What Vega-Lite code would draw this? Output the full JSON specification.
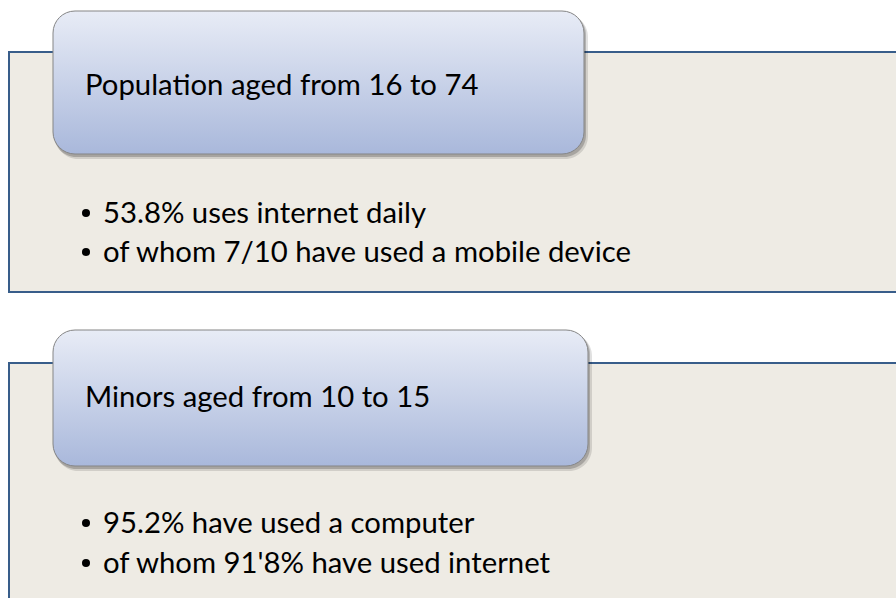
{
  "$schema": "https://vega.github.io/schema/vega-lite/v6.json",
  "width": 896,
  "height": 598,
  "autosize": {"type": "fit", "contains": "padding"},
  "padding": 0,
  "background": "#ffffff",
  "config": {"view": {"stroke": null}, "axis": {"disable": true}, "legend": {"disable": true}},
  "datasets": {
    "lines": [
      {"group": "Population aged from 16 to 74", "kind": "title", "slot": 1, "text": "Population aged from 16 to 74"},
      {"group": "Population aged from 16 to 74", "kind": "bullet", "slot": 2, "text": "53.8% uses internet daily"},
      {"group": "Population aged from 16 to 74", "kind": "bullet", "slot": 3, "text": "of whom 7/10 have used a mobile device"},
      {"group": "Minors aged from 10 to 15", "kind": "title", "slot": 4, "text": "Minors aged from 10 to 15"},
      {"group": "Minors aged from 10 to 15", "kind": "bullet", "slot": 5, "text": "95.2% have used a computer"},
      {"group": "Minors aged from 10 to 15", "kind": "bullet", "slot": 6, "text": "of whom 91'8% have used internet"}
    ]
  },
  "layer": [
    {
      "data": {"values": [{}]},
      "mark": {"type": "rect", "fill": "#EEEBE4", "stroke": "#385D8A", "strokeWidth": 2, "clip": true},
      "encoding": {
        "x": {"datum": 9, "type": "quantitative", "scale": {"domain": [0, 896], "nice": false, "zero": false}},
        "x2": {"datum": 910},
        "y": {"datum": 52, "type": "quantitative", "scale": {"domain": [0, 598], "reverse": true, "nice": false, "zero": false}},
        "y2": {"datum": 292}
      }
    },
    {
      "data": {"values": [{}]},
      "mark": {"type": "rect", "fill": "#EEEBE4", "stroke": "#385D8A", "strokeWidth": 2, "clip": true},
      "encoding": {
        "x": {"datum": 9, "type": "quantitative", "scale": {"domain": [0, 896], "nice": false, "zero": false}},
        "x2": {"datum": 910},
        "y": {"datum": 363, "type": "quantitative", "scale": {"domain": [0, 598], "reverse": true, "nice": false, "zero": false}},
        "y2": {"datum": 615}
      }
    },
    {
      "data": {"values": [{}]},
      "mark": {"type": "rect", "fill": "#000000", "opacity": 0.12, "cornerRadius": 23},
      "encoding": {
        "x": {"datum": 55, "type": "quantitative", "scale": {"domain": [0, 896], "nice": false, "zero": false}},
        "x2": {"datum": 588},
        "y": {"datum": 14, "type": "quantitative", "scale": {"domain": [0, 598], "reverse": true, "nice": false, "zero": false}},
        "y2": {"datum": 159}
      }
    },
    {
      "data": {"values": [{}]},
      "mark": {"type": "rect", "fill": "#000000", "opacity": 0.2, "cornerRadius": 22},
      "encoding": {
        "x": {"datum": 54, "type": "quantitative", "scale": {"domain": [0, 896], "nice": false, "zero": false}},
        "x2": {"datum": 586},
        "y": {"datum": 13, "type": "quantitative", "scale": {"domain": [0, 598], "reverse": true, "nice": false, "zero": false}},
        "y2": {"datum": 157}
      }
    },
    {
      "data": {"values": [{}]},
      "mark": {"type": "rect", "fill": "#000000", "opacity": 0.12, "cornerRadius": 23},
      "encoding": {
        "x": {"datum": 55, "type": "quantitative", "scale": {"domain": [0, 896], "nice": false, "zero": false}},
        "x2": {"datum": 592},
        "y": {"datum": 333, "type": "quantitative", "scale": {"domain": [0, 598], "reverse": true, "nice": false, "zero": false}},
        "y2": {"datum": 471}
      }
    },
    {
      "data": {"values": [{}]},
      "mark": {"type": "rect", "fill": "#000000", "opacity": 0.2, "cornerRadius": 22},
      "encoding": {
        "x": {"datum": 54, "type": "quantitative", "scale": {"domain": [0, 896], "nice": false, "zero": false}},
        "x2": {"datum": 590},
        "y": {"datum": 332, "type": "quantitative", "scale": {"domain": [0, 598], "reverse": true, "nice": false, "zero": false}},
        "y2": {"datum": 469}
      }
    },
    {
      "data": {"values": [{}]},
      "mark": {
        "type": "rect", "cornerRadius": 22, "stroke": "#858585", "strokeWidth": 1,
        "fill": {"gradient": "linear", "x1": 0, "y1": 0, "x2": 0, "y2": 1,
          "stops": [{"offset": 0, "color": "#E8ECF6"}, {"offset": 1, "color": "#A9B8DB"}]}
      },
      "encoding": {
        "x": {"datum": 53, "type": "quantitative", "scale": {"domain": [0, 896], "nice": false, "zero": false}},
        "x2": {"datum": 584},
        "y": {"datum": 11, "type": "quantitative", "scale": {"domain": [0, 598], "reverse": true, "nice": false, "zero": false}},
        "y2": {"datum": 154}
      }
    },
    {
      "data": {"values": [{}]},
      "mark": {
        "type": "rect", "cornerRadius": 22, "stroke": "#858585", "strokeWidth": 1,
        "fill": {"gradient": "linear", "x1": 0, "y1": 0, "x2": 0, "y2": 1,
          "stops": [{"offset": 0, "color": "#E8ECF6"}, {"offset": 1, "color": "#A9B8DB"}]}
      },
      "encoding": {
        "x": {"datum": 53, "type": "quantitative", "scale": {"domain": [0, 896], "nice": false, "zero": false}},
        "x2": {"datum": 588},
        "y": {"datum": 330, "type": "quantitative", "scale": {"domain": [0, 598], "reverse": true, "nice": false, "zero": false}},
        "y2": {"datum": 466}
      }
    },
    {
      "data": {"name": "lines"},
      "mark": {"type": "text", "font": "Lato", "fontSize": 29.3, "align": "left", "baseline": "alphabetic", "color": "#000000"},
      "encoding": {
        "x": {"field": "kind", "type": "nominal", "scale": {"type": "point", "domain": ["title", "bullet"], "range": [85, 103], "padding": 0}},
        "y": {"field": "slot", "type": "quantitative", "scale": {"domain": [1, 2, 3, 4, 5, 6], "range": [95, 223, 262, 407, 533, 573], "nice": false, "zero": false}},
        "text": {"field": "text"}
      }
    },
    {
      "data": {"name": "lines"},
      "transform": [{"filter": "datum.kind === 'bullet'"}],
      "mark": {"type": "point", "shape": "circle", "filled": true, "size": 65, "color": "#000000", "opacity": 1},
      "encoding": {
        "x": {"datum": 86, "type": "quantitative", "scale": {"domain": [0, 896], "nice": false, "zero": false}},
        "y": {"field": "slot", "type": "quantitative", "scale": {"domain": [2, 3, 5, 6], "range": [213, 252, 523, 563], "nice": false, "zero": false}}
      }
    }
  ],
  "resolve": {"scale": {"x": "independent", "y": "independent"}}
}
